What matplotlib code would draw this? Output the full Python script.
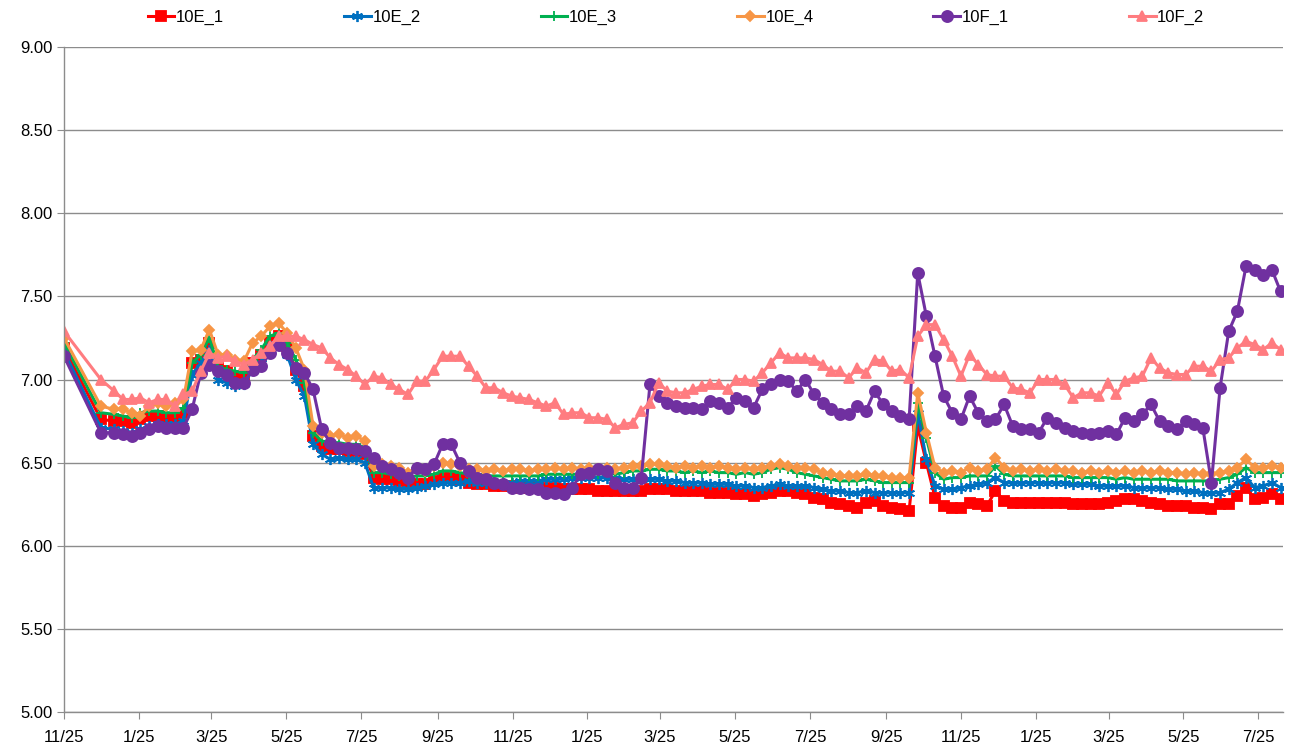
import matplotlib
matplotlib.use("Agg")
import matplotlib.pyplot as plt
import matplotlib.dates as mdates
from matplotlib.ticker import FuncFormatter, MultipleLocator
import pandas as pd

plt.rcParams["font.family"] = ["Liberation Sans Narrow", "Liberation Sans", "DejaVu Sans"]

# sampling dates: first reading, a monthly gap, then roughly weekly
first_dates = [pd.Timestamp("2012-11-25"), pd.Timestamp("2012-12-25")]
weekly_dates = list(pd.date_range("2013-01-05", "2015-08-12", periods=136))
dates = first_dates + weekly_dates

e1 = [7.19,
      6.76, 6.75, 6.75, 6.74, 6.76, 6.78, 6.78, 6.77, 6.77, 6.80,
      7.10, 7.12, 7.22, 7.08, 7.05, 7.02, 7.02, 7.10, 7.15, 7.23,
      7.26, 7.20, 7.06, 6.96, 6.66, 6.60, 6.58, 6.58, 6.57, 6.57,
      6.55, 6.41, 6.40, 6.40, 6.39, 6.38, 6.37, 6.37, 6.39, 6.41,
      6.41, 6.40, 6.38, 6.37, 6.37, 6.36, 6.36, 6.36, 6.35, 6.35,
      6.35, 6.35, 6.35, 6.34, 6.34, 6.34, 6.34, 6.33, 6.33, 6.33,
      6.33, 6.33, 6.33, 6.34, 6.34, 6.34, 6.33, 6.33, 6.33, 6.33,
      6.32, 6.32, 6.32, 6.31, 6.31, 6.30, 6.31, 6.32, 6.33, 6.33,
      6.32, 6.31, 6.29, 6.28, 6.26, 6.25, 6.24, 6.23, 6.26, 6.27,
      6.24, 6.23, 6.22, 6.21, 6.72, 6.50, 6.29, 6.24, 6.23, 6.23,
      6.26, 6.25, 6.24, 6.33, 6.27, 6.26, 6.26, 6.26, 6.26, 6.26,
      6.26, 6.26, 6.25, 6.25, 6.25, 6.25, 6.26, 6.27, 6.28, 6.28,
      6.27, 6.26, 6.25, 6.24, 6.24, 6.24, 6.23, 6.23, 6.22, 6.25,
      6.25, 6.30, 6.35, 6.28, 6.29, 6.31, 6.28]

e2 = [7.17,
      6.71, 6.70, 6.69, 6.68, 6.70, 6.72, 6.73, 6.73, 6.73, 6.75,
      7.03, 7.10, 7.18, 7.00, 6.98, 6.96, 6.97, 7.06, 7.10, 7.20,
      7.23, 7.15, 7.00, 6.90, 6.61, 6.55, 6.52, 6.53, 6.52, 6.52,
      6.50, 6.35, 6.35, 6.35, 6.34, 6.34, 6.35, 6.36, 6.37, 6.38,
      6.38, 6.38, 6.39, 6.38, 6.38, 6.38, 6.38, 6.38, 6.39, 6.39,
      6.39, 6.40, 6.40, 6.40, 6.41, 6.41, 6.41, 6.41, 6.41, 6.41,
      6.40, 6.40, 6.40, 6.40, 6.40, 6.39, 6.39, 6.38, 6.38, 6.38,
      6.37, 6.37, 6.37, 6.36, 6.36, 6.35, 6.35, 6.36, 6.37, 6.36,
      6.36, 6.36, 6.35, 6.34, 6.33, 6.33, 6.32, 6.32, 6.33, 6.32,
      6.32, 6.32, 6.32, 6.32, 6.80, 6.52, 6.36, 6.34, 6.34, 6.35,
      6.36, 6.37, 6.38, 6.41, 6.38, 6.38, 6.38, 6.38, 6.38, 6.38,
      6.38, 6.38, 6.37, 6.37, 6.37, 6.36, 6.36, 6.36, 6.36, 6.35,
      6.35, 6.35, 6.35, 6.34, 6.34, 6.33, 6.33, 6.32, 6.32, 6.32,
      6.34, 6.38, 6.41, 6.35, 6.36, 6.38, 6.35]

e3 = [7.22,
      6.80, 6.79, 6.78, 6.77, 6.80, 6.81, 6.81, 6.80, 6.80, 6.83,
      7.10, 7.15, 7.25, 7.08, 7.06, 7.05, 7.04, 7.12, 7.18, 7.26,
      7.28, 7.22, 7.12, 6.98, 6.68, 6.63, 6.62, 6.62, 6.61, 6.61,
      6.59, 6.44, 6.44, 6.43, 6.42, 6.41, 6.42, 6.42, 6.43, 6.45,
      6.45, 6.44, 6.43, 6.43, 6.42, 6.42, 6.42, 6.42, 6.42, 6.42,
      6.42, 6.43, 6.43, 6.43, 6.43, 6.43, 6.44, 6.43, 6.44, 6.43,
      6.44, 6.45, 6.45, 6.46, 6.46, 6.45, 6.45, 6.44, 6.45, 6.44,
      6.45, 6.44, 6.44, 6.43, 6.44, 6.43, 6.44, 6.46, 6.47, 6.46,
      6.44, 6.43, 6.42, 6.41, 6.40, 6.39, 6.39, 6.39, 6.40, 6.39,
      6.38, 6.38, 6.38, 6.38, 6.86, 6.65, 6.44, 6.40, 6.41, 6.41,
      6.42, 6.42, 6.42, 6.48, 6.43, 6.42, 6.42, 6.42, 6.42, 6.42,
      6.42, 6.42, 6.41, 6.41, 6.41, 6.41, 6.41, 6.40, 6.41, 6.40,
      6.40, 6.40, 6.40, 6.40, 6.39, 6.39, 6.39, 6.39, 6.39, 6.40,
      6.41, 6.43, 6.47, 6.44, 6.44, 6.44, 6.44]

e4 = [7.25,
      6.84, 6.82, 6.82, 6.80, 6.78, 6.84, 6.86, 6.84, 6.86, 6.88,
      7.17, 7.18, 7.30, 7.15, 7.15, 7.12, 7.11, 7.22, 7.26, 7.32,
      7.34, 7.28, 7.19, 7.06, 6.72, 6.68, 6.66, 6.67, 6.65, 6.66,
      6.63, 6.48, 6.49, 6.48, 6.47, 6.44, 6.47, 6.45, 6.48, 6.50,
      6.49, 6.48, 6.46, 6.46, 6.45, 6.46, 6.45, 6.46, 6.46, 6.45,
      6.46, 6.46, 6.47, 6.46, 6.47, 6.46, 6.47, 6.46, 6.47, 6.46,
      6.47, 6.48, 6.48, 6.49, 6.49, 6.48, 6.47, 6.48, 6.47, 6.48,
      6.47, 6.48, 6.47, 6.46, 6.47, 6.46, 6.47, 6.48, 6.49, 6.48,
      6.47, 6.47, 6.46, 6.44, 6.43, 6.42, 6.42, 6.42, 6.43, 6.42,
      6.42, 6.41, 6.41, 6.41, 6.92, 6.68, 6.47, 6.44, 6.45, 6.44,
      6.47, 6.45, 6.46, 6.53, 6.47, 6.45, 6.46, 6.45, 6.46, 6.45,
      6.46, 6.45, 6.45, 6.44, 6.45, 6.44, 6.45, 6.44, 6.45, 6.44,
      6.45, 6.44, 6.45, 6.44, 6.44, 6.43, 6.44, 6.43, 6.43, 6.44,
      6.45, 6.47, 6.52, 6.47, 6.47, 6.48, 6.47]

f1 = [7.14,
      6.68, 6.68, 6.67, 6.66, 6.68, 6.70, 6.72, 6.71, 6.71, 6.71,
      6.82, 7.04, 7.09, 7.05, 7.03, 6.98, 6.98, 7.06, 7.08, 7.16,
      7.21, 7.16, 7.07, 7.04, 6.94, 6.70, 6.62, 6.59, 6.59, 6.58,
      6.57, 6.53, 6.48, 6.46, 6.44, 6.41, 6.47, 6.46, 6.49, 6.61,
      6.61, 6.50, 6.45, 6.41, 6.40, 6.38, 6.37, 6.35, 6.35, 6.34,
      6.34, 6.32, 6.32, 6.31, 6.35, 6.43, 6.44, 6.46, 6.45, 6.38,
      6.35, 6.35, 6.41, 6.97, 6.90, 6.86, 6.84, 6.83, 6.83, 6.82,
      6.87, 6.86, 6.83, 6.89, 6.87, 6.83, 6.94, 6.97, 7.00, 6.99,
      6.93, 7.00, 6.91, 6.86, 6.82, 6.79, 6.79, 6.84, 6.81, 6.93,
      6.85, 6.81, 6.78, 6.76, 7.64, 7.38, 7.14, 6.90, 6.80, 6.76,
      6.90, 6.80, 6.75, 6.76, 6.85, 6.72, 6.70, 6.70, 6.68, 6.77,
      6.74, 6.71, 6.69, 6.68, 6.67, 6.68, 6.69, 6.67, 6.77, 6.75,
      6.79, 6.85, 6.75, 6.72, 6.70, 6.75, 6.73, 6.71, 6.38, 6.95,
      7.29, 7.41, 7.68, 7.66, 7.63, 7.66, 7.53]

f2 = [7.29,
      7.00, 6.93, 6.88, 6.88, 6.89, 6.86, 6.88, 6.88, 6.84, 6.91,
      6.93, 7.05, 7.16, 7.13, 7.14, 7.11, 7.09, 7.12, 7.16, 7.20,
      7.26, 7.26, 7.26, 7.24, 7.21, 7.19, 7.13, 7.09, 7.06, 7.02,
      6.97, 7.02, 7.01, 6.97, 6.94, 6.91, 6.99, 6.99, 7.06, 7.14,
      7.14, 7.14, 7.08, 7.02, 6.95, 6.95, 6.92, 6.90, 6.89, 6.88,
      6.86, 6.84, 6.86, 6.79, 6.80, 6.80, 6.77, 6.77, 6.76, 6.71,
      6.73, 6.74, 6.81, 6.86, 6.98, 6.93, 6.92, 6.92, 6.94, 6.96,
      6.97, 6.97, 6.94, 7.00, 7.00, 6.99, 7.04, 7.10, 7.16, 7.13,
      7.13, 7.13, 7.12, 7.09, 7.05, 7.05, 7.01, 7.07, 7.04, 7.12,
      7.11, 7.05, 7.06, 7.01, 7.26, 7.33, 7.33, 7.24, 7.14, 7.02,
      7.15, 7.09, 7.03, 7.02, 7.02, 6.95, 6.94, 6.92, 7.00, 7.00,
      7.00, 6.97, 6.89, 6.92, 6.92, 6.90, 6.98, 6.91, 6.99, 7.01,
      7.02, 7.13, 7.07, 7.04, 7.03, 7.03, 7.08, 7.08, 7.05, 7.12,
      7.13, 7.19, 7.23, 7.21, 7.18, 7.22, 7.18]

series = [
    ("10E_1", e1, "#FF0000", "s", 6.5),
    ("10E_2", e2, "#0070C0", (6, 2, 0), 8),
    ("10E_3", e3, "#00B050", "+", 7),
    ("10E_4", e4, "#F79646", "D", 5.5),
    ("10F_1", f1, "#7030A0", "o", 8),
    ("10F_2", f2, "#FF7C80", "^", 7.5),
]

fig = plt.figure(figsize=(12.9, 7.54), dpi=100)
ax = fig.add_axes([64 / 1290, 1 - 712 / 754, (1283 - 64) / 1290, (712 - 47) / 754])

for name, values, color, marker, ms in series:
    ax.plot(dates, values, color=color, linewidth=2.2, marker=marker,
            markersize=ms, markeredgecolor=color, markerfacecolor=color,
            markeredgewidth=1.3, label=name)

ax.set_ylim(5.0, 9.0)
ax.yaxis.set_major_locator(MultipleLocator(0.5))
ax.yaxis.set_major_formatter(FuncFormatter(lambda v, p: f"{v:.2f}"))
ax.set_xlim(pd.Timestamp("2012-11-25"), pd.Timestamp("2015-08-14"))
ax.xaxis.set_major_locator(mdates.MonthLocator(bymonth=[1, 3, 5, 7, 9, 11], bymonthday=25))
ax.xaxis.set_major_formatter(FuncFormatter(
    lambda v, p: f"{mdates.num2date(v).month}/{mdates.num2date(v).day}"))

ax.grid(axis="y", color="#8C8C8C", linewidth=1.0)
ax.set_axisbelow(True)
for side in ("top", "right"):
    ax.spines[side].set_visible(False)
for side in ("left", "bottom"):
    ax.spines[side].set_color("#8C8C8C")
    ax.spines[side].set_linewidth(1.0)
ax.tick_params(axis="x", direction="out", length=5, color="#8C8C8C", labelsize=12, pad=8)
ax.tick_params(axis="y", direction="out", length=5, color="#8C8C8C", labelsize=12)

fig.legend(loc="center", bbox_to_anchor=(676 / 1290, 1 - 17 / 754), ncol=6, frameon=False,
           fontsize=12, handlelength=1.6, handletextpad=0.1, columnspacing=7.2)

fig.savefig("out.png", dpi=100)
